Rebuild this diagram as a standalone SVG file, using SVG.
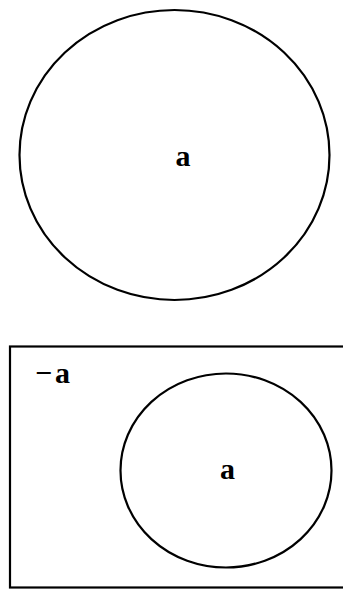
<svg xmlns="http://www.w3.org/2000/svg" width="343" height="590" viewBox="0 0 343 590">
<style>
.sh{fill:none;stroke:#000;stroke-width:2.2}
.lb{font-family:"Liberation Serif",serif;font-weight:bold;font-size:30px;fill:#000}
</style>
<rect width="343" height="590" fill="#fff"/>
<g id="top">
<ellipse class="sh" cx="174.5" cy="155" rx="155" ry="145"/>
<text class="lb" x="183" y="165.5" text-anchor="middle">a</text>
</g>
<g id="bottom">
<rect class="sh" x="10" y="346.5" width="345" height="241"/>
<ellipse class="sh" cx="226" cy="470.5" rx="105.5" ry="97"/>
<text class="lb" x="227.5" y="479" text-anchor="middle">a</text>
<text class="lb" x="35" y="383" letter-spacing="3">−a</text>
</g>
</svg>
